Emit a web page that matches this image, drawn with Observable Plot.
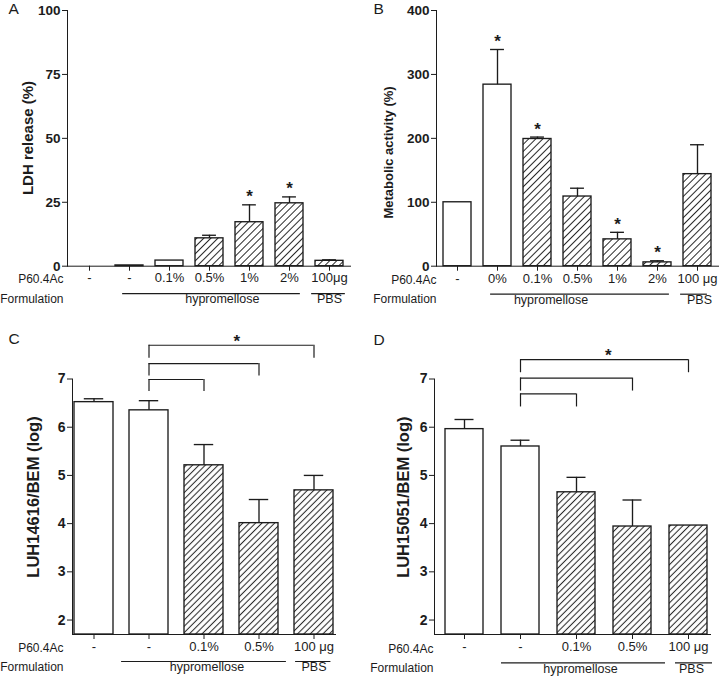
<!DOCTYPE html>
<html><head><meta charset="utf-8">
<script src="https://cdn.jsdelivr.net/npm/d3@7"></script>
<script src="https://cdn.jsdelivr.net/npm/@observablehq/plot@0.6"></script>
<style>
body{margin:0;background:#fff;}
#wrap{position:relative;width:720px;height:678px;overflow:hidden;}
.panel{position:absolute;}
</style></head><body><div id="wrap"></div>
<script>
// ---------- Panel A: LDH release ----------
const catsA  = ["-", "-", "0.1%", "0.5%", "1%", "2%", "100μg"];
const meanA  = [0, 0.3, 2.2, 10.9, 17.2, 24.6, 2.1];
const sdA    = [0, 0, 0, 1.2, 6.8, 2.5, 0.4];
const hatchA = [0, 0, 0, 1, 1, 1, 1];
const starA  = [0, 0, 0, 0, 1, 1, 0];
const ticksA = [0, 25, 50, 75, 100];

// ---------- Panel B: Metabolic activity ----------
const catsB  = ["-", "0%", "0.1%", "0.5%", "1%", "2%", "100 μg"];
const meanB  = [100, 284, 199, 109, 42, 6, 144];
const sdB    = [0, 55, 3, 13, 11, 2.5, 46];
const hatchB = [0, 0, 1, 1, 1, 1, 1];
const starB  = [0, 1, 1, 0, 1, 1, 0];
const ticksB = [0, 100, 200, 300, 400];

// ---------- Panel C: LUH14616/BEM ----------
const catsC  = ["-", "-", "0.1%", "0.5%", "100 μg"];
const meanC  = [6.52, 6.35, 5.21, 4.01, 4.69];
const sdC    = [0.07, 0.2, 0.43, 0.49, 0.31];
const hatchC = [0, 0, 1, 1, 1];
const starC  = [0, 0, 0, 0, 0];
const ticksC = [2, 3, 4, 5, 6, 7];
const bracketsC = [{to: 2, top: 6.99, bottom: 6.74}, {to: 3, top: 7.32, bottom: 7.06}, {to: 4, top: 7.70, bottom: 7.43}];

// ---------- Panel D: LUH15051/BEM ----------
const catsD  = ["-", "-", "0.1%", "0.5%", "100 μg"];
const meanD  = [5.96, 5.60, 4.65, 3.94, 3.96];
const sdD    = [0.2, 0.13, 0.31, 0.55, 0];
const hatchD = [0, 0, 1, 1, 1];
const starD  = [0, 0, 0, 0, 0];
const ticksD = [2, 3, 4, 5, 6, 7];
const bracketsD = [{to: 2, top: 6.69, bottom: 6.42}, {to: 3, top: 7.02, bottom: 6.75}, {to: 4, top: 7.40, bottom: 7.13}];

const rowLabel1 = "P60.4Ac";
const rowLabel2 = "Formulation";

const ink = "#1c1c1c";
const FONT = "'Liberation Sans', Arial, Helvetica, sans-serif";

function makePanel(cfg) {
  const n = cfg.cats.length;
  const rows = cfg.cats.map((label, i) => ({
    id: String(i), label, mean: cfg.mean[i], sd: cfg.sd[i],
    top: cfg.mean[i] + cfg.sd[i], hatch: cfg.hatch[i], star: cfg.star[i]
  }));
  const ids = rows.map(d => d.id);
  const base = cfg.domain[0];
  const range = cfg.width - cfg.ml - cfg.mr;
  const step = range / (n - cfg.pi + 2 * cfg.po);
  const bw = step * (1 - cfg.pi);
  const pid = "hatch" + cfg.key;
  const plain = rows.filter(d => !d.hatch && d.mean > base);
  const hatched = rows.filter(d => d.hatch && d.mean > base);
  const errs = rows.filter(d => d.sd > 0);
  const stars = rows.filter(d => d.star);

  const marks = [
    Plot.barY(plain, {x: "id", y1: () => base, y2: "mean", fill: "white", stroke: ink, strokeWidth: 1.35}),
    Plot.barY(hatched, {x: "id", y1: () => base, y2: "mean", fill: `url(#${pid})`, stroke: ink, strokeWidth: 1.35}),
    Plot.ruleX(errs, {x: "id", y1: "mean", y2: "top", stroke: ink, strokeWidth: 1.35}),
    Plot.tickY(errs, {x: "id", y: "top", stroke: ink, strokeWidth: 1.35, insetLeft: bw / 4, insetRight: bw / 4}),
    Plot.text(stars, {x: "id", y: "top", text: () => "*", dy: -8, fontSize: 17, fontWeight: "bold", fill: ink}),
    // category labels row
    Plot.text(rows, {x: "id", text: "label", frameAnchor: "bottom", dy: cfg.row1, fontSize: 13, fontWeight: "normal", fill: ink}),
    // row headers
    Plot.text([rowLabel1], {frameAnchor: "bottom-left", textAnchor: "end", dx: cfg.hdx, dy: cfg.row1 + 1.5, fontSize: 12, fontWeight: "normal", fill: ink}),
    Plot.text([rowLabel2], {frameAnchor: "bottom-left", textAnchor: "end", dx: cfg.hdx, dy: cfg.row2, fontSize: 12, fontWeight: "normal", fill: ink}),
    // y title (centre given relative to the frame's top-left corner)
    Plot.text([cfg.ytitle], {frameAnchor: "top-left", rotate: -90, textAnchor: "middle", lineAnchor: "middle",
      dx: cfg.tdx, dy: cfg.tcy - cfg.mt, fontSize: cfg.tfs, fontWeight: "bold", fill: ink}),
    // panel letter
    Plot.text([cfg.key], {frameAnchor: "top-left", textAnchor: "start", lineAnchor: "top", dx: cfg.ldx, dy: cfg.ldy, fontSize: 15.5, fontWeight: "normal", fill: ink})
  ];

  for (const g of cfg.groups) {
    marks.push(Plot.ruleY([g], {x1: d => String(d.from), x2: d => String(d.to), y: () => base, dy: cfg.lineDy,
      insetLeft: bw / 2 - g.l, insetRight: bw / 2 - g.r, stroke: ink, strokeWidth: 1.2}));
    marks.push(Plot.text([g], {x: d => String(d.from), text: d => d.label, frameAnchor: "bottom",
      dx: (g.to - g.from) / 2 * step + g.tdx, dy: cfg.row2 + 0.5, fontSize: 12.5, fontWeight: "normal", fill: ink}));
  }

  if (cfg.brackets) {
    const br = cfg.brackets;
    marks.push(Plot.ruleY(br, {x1: () => "1", x2: d => String(d.to), y: "top", insetLeft: bw / 2, insetRight: bw / 2, stroke: ink, strokeWidth: 1.2}));
    marks.push(Plot.ruleX(br, {x: () => "1", y1: "bottom", y2: "top", stroke: ink, strokeWidth: 1.2}));
    marks.push(Plot.ruleX(br, {x: d => String(d.to), y1: "bottom", y2: "top", stroke: ink, strokeWidth: 1.2}));
    const last = br[br.length - 1];
    marks.push(Plot.text([last], {x: () => "1", y: "top", text: () => "*", dx: (last.to - 1) / 2 * step + cfg.bstarDx,
      dy: -4, fontSize: 17, fontWeight: "bold", fill: ink}));
  }

  const svg = Plot.plot({
    width: cfg.width, height: cfg.height,
    marginLeft: cfg.ml, marginRight: cfg.mr, marginTop: cfg.mt, marginBottom: cfg.mb,
    style: {fontFamily: FONT, fontSize: cfg.tickFs + "px", fontWeight: "bold", color: ink, background: "white", overflow: "visible"},
    x: {type: "band", domain: ids, paddingInner: cfg.pi, paddingOuter: cfg.po, align: cfg.align ?? 0.5,
        tickSize: 5, tickFormat: () => "", line: true, label: null},
    y: {domain: cfg.domain, ticks: cfg.ticks, tickSize: 5, tickPadding: 2, tickFormat: d => String(d), line: true, label: null},
    marks
  });
  svg.querySelectorAll('g[aria-label="y-axis tick label"]').forEach(g => {
    g.setAttribute("font-size", cfg.tickFs);
    g.setAttribute("font-weight", "bold");
    g.style.fontSize = cfg.tickFs + "px";
    g.style.fontWeight = "bold";
  });
  const ns = "http://www.w3.org/2000/svg";
  const defs = document.createElementNS(ns, "defs");
  const s = cfg.hs;
  defs.innerHTML = `<pattern id="${pid}" patternUnits="userSpaceOnUse" width="${s}" height="${s}" patternTransform="rotate(45)">
    <rect width="${s}" height="${s}" fill="white"></rect>
    <line x1="${s/2}" y1="0" x2="${s/2}" y2="${s}" stroke="#2a2a2a" stroke-width="1.05"></line></pattern>`;
  svg.insertBefore(defs, svg.firstChild);
  const div = document.createElement("div");
  div.className = "panel";
  div.style.left = cfg.left + "px";
  div.style.top = cfg.topPos + "px";
  div.appendChild(svg);
  document.getElementById("wrap").appendChild(div);
}

makePanel({key: "A", left: 0, topPos: 0, width: 360, height: 330, ml: 67, mr: 10, mt: 10, mb: 64.3,
  cats: catsA, mean: meanA, sd: sdA, hatch: hatchA, star: starA, domain: [0, 100], ticks: ticksA,
  pi: 0.3, po: 0.15, hs: 5, tickFs: 13.5,
  ytitle: "LDH release (%)", tfs: 15, tdx: -39, tcy: 137.5,
  ldx: -59, ldy: -8, hdx: -4, row1: 15.5, row2: 36.5, lineDy: 27.5,
  groups: [{from: 1, to: 5, label: "hypromellose", l: 7, r: 11, tdx: 12}, {from: 6, to: 6, label: "PBS", l: 18, r: 16, tdx: 0}]
});

makePanel({key: "B", left: 360, topPos: 0, width: 360, height: 330, ml: 76, mr: 2, mt: 10, mb: 64.3,
  cats: catsB, mean: meanB, sd: sdB, hatch: hatchB, star: starB, domain: [0, 400], ticks: ticksB,
  pi: 0.3, po: 0.15, hs: 5, tickFs: 13.5,
  ytitle: "Metabolic activity (%)", tfs: 13, tdx: -48, tcy: 152,
  ldx: -63, ldy: -8, hdx: 0, row1: 16.3, row2: 37, lineDy: 28,
  groups: [{from: 1, to: 5, label: "hypromellose", l: 7, r: 12, tdx: -27}, {from: 6, to: 6, label: "PBS", l: 17, r: 10, tdx: 2}]
});

makePanel({key: "C", left: 0, topPos: 330, width: 360, height: 348, ml: 72, mr: 25, mt: 48.5, mb: 44,
  cats: catsC, mean: meanC, sd: sdC, hatch: hatchC, star: starC, domain: [1.7, 7], ticks: ticksC,
  pi: 0.3, po: 0, hs: 4.5, tickFs: 14,
  ytitle: "LUH14616/BEM (log)", tfs: 16.5, tdx: -39, tcy: 166.5,
  ldx: -64, ldy: -46.5, hdx: -9, row1: 16, row2: 36, lineDy: 27,
  brackets: bracketsC, bstarDx: 4,
  groups: [{from: 1, to: 3, label: "hypromellose", l: 27.5, r: 27.5, tdx: 2}, {from: 4, to: 4, label: "PBS", l: 18.5, r: 17, tdx: 0}]
});

makePanel({key: "D", left: 360, topPos: 330, width: 360, height: 348, ml: 74, mr: 10, mt: 48.5, mb: 44,
  cats: catsD, mean: meanD, sd: sdD, hatch: hatchD, star: starD, domain: [1.7, 7], ticks: ticksD,
  pi: 0.327, po: 0.106, align: 0.75, hs: 4.5, tickFs: 14,
  ytitle: "LUH15051/BEM (log)", tfs: 16.5, tdx: -31, tcy: 166.7,
  ldx: -61, ldy: -45, hdx: -1, row1: 16.7, row2: 37.5, lineDy: 28.4,
  brackets: bracketsD, bstarDx: 3,
  groups: [{from: 1, to: 3, label: "hypromellose", l: 19, r: 33, tdx: 3.5}, {from: 4, to: 4, label: "PBS", l: 13, r: 24, tdx: 3}]
});
</script>
</body></html>
